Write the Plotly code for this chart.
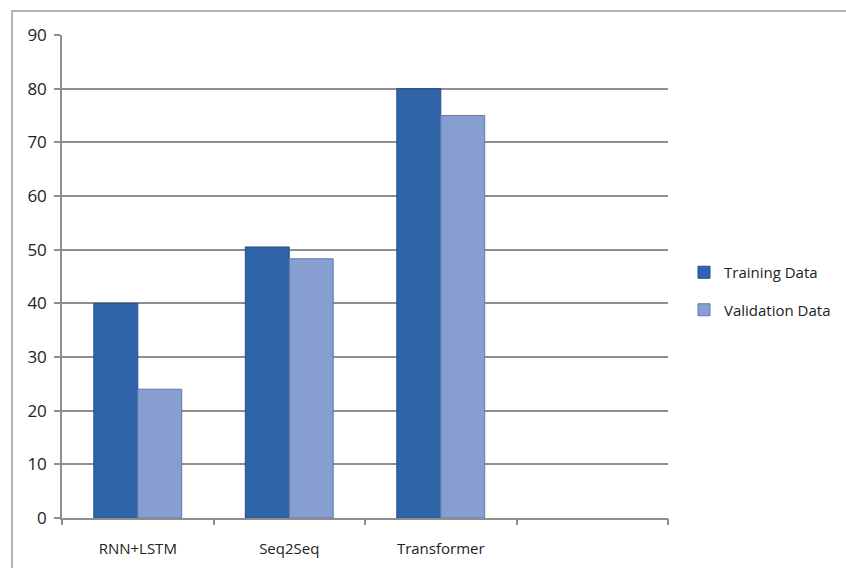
import plotly.graph_objects as go

categories = ["RNN+LSTM", "Seq2Seq", "Transformer"]
training = [40, 50.5, 80]
validation = [24, 48.3, 75]
y_ticks = [0, 10, 20, 30, 40, 50, 60, 70, 80, 90]
series_names = ["Training Data", "Validation Data"]

W, H = 846, 568
L, R, T, B = 62, 178, 35, 50
pw, ph = W - L - R, H - T - B

xpos = list(range(len(categories)))
font = "Open Sans, Liberation Sans, sans-serif"

fig = go.Figure()
fig.add_trace(go.Bar(
    x=xpos, y=training, name=series_names[0], legendgroup="a",
    marker=dict(color="#3064A9", line=dict(color="#234E88", width=1)),
))
fig.add_trace(go.Bar(
    x=xpos, y=validation, name=series_names[1], legendgroup="b",
    marker=dict(color="#869FD0", line=dict(color="#6378A8", width=1)),
))

grid = "#8E8E8E"
fig.update_layout(
    width=W, height=H,
    margin=dict(l=L, r=R, t=T, b=B, pad=0, autoexpand=False),
    paper_bgcolor="white", plot_bgcolor="white",
    barmode="group", bargap=0.42, bargroupgap=0,
    font=dict(family=font, size=16, color="#222222"),
    showlegend=True,
    legend=dict(
        x=(684 - L) / pw, y=(H - B - 291) / ph, xanchor="left", yanchor="middle",
        font=dict(family=font, size=15, color="#222222"),
        tracegroupgap=15, itemwidth=30, bgcolor="rgba(0,0,0,0)",
    ),
    xaxis=dict(
        range=[-0.5, 3.5], tickvals=xpos, ticktext=categories,
        ticks="", showline=True, linecolor=grid, linewidth=1.5,
        showgrid=False, zeroline=False, ticklabelstandoff=16,
        tickfont=dict(size=15),
    ),
    xaxis2=dict(
        overlaying="x", anchor="y", side="bottom", range=[-0.5, 3.5],
        tickvals=[-0.5, 0.5, 1.5, 2.5, 3.5], showticklabels=False,
        ticks="outside", ticklen=6, tickcolor=grid, tickwidth=1.5,
        showgrid=False, zeroline=False, showline=False,
    ),
    yaxis=dict(
        range=[0, 90], tickvals=y_ticks, ticks="outside", ticklen=6,
        tickcolor=grid, tickwidth=1.5, showline=True, linecolor=grid,
        linewidth=1.5, showgrid=True, gridcolor=grid, gridwidth=1.5,
        zeroline=False, ticklabelstandoff=4, tickfont=dict(size=17),
    ),
    shapes=[dict(
        type="rect", xref="paper", yref="paper",
        x0=(12 - L) / pw, x1=(W + 6 - L) / pw,
        y0=-(B + 8) / ph, y1=(H - B - 11) / ph,
        line=dict(color="#9A9A9A", width=1.5), fillcolor="rgba(0,0,0,0)",
        layer="below",
    )],
)
# invisible trace to activate xaxis2 ticks
fig.add_trace(go.Scatter(x=[-0.5, 3.5], y=[0, 0], xaxis="x2", mode="none",
                         showlegend=False, hoverinfo="skip"))
fig.write_html("out.html")
